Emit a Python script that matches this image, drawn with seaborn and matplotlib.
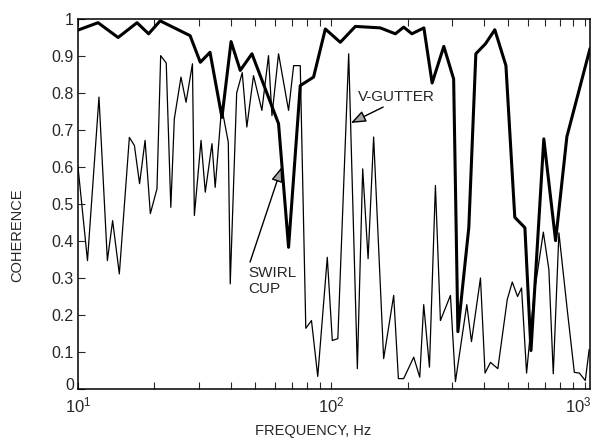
import numpy as np
import pandas as pd
import matplotlib
matplotlib.use("Agg")
import matplotlib.pyplot as plt
import matplotlib.transforms as mtransforms
import seaborn as sns
from matplotlib.ticker import LogLocator, NullFormatter, FixedLocator

# ---- data ----
swirl_freq = [10.0, 12.0, 14.4, 17.1, 19.0, 21.1, 27.7, 30.4, 33.2, 37.0, 40.2, 43.7,
              48.6, 61.9, 67.8, 75.4, 85.1, 94.7, 108.5, 124.4, 156, 179, 193, 208,
              232, 250, 278, 304, 316, 349, 372, 406, 442, 489, 530, 581, 614, 690,
              768, 851, 1050]
swirl_coh = [0.97, 0.99, 0.95, 0.99, 0.96, 0.995, 0.955, 0.883, 0.91, 0.734, 0.939, 0.861,
             0.906, 0.717, 0.383, 0.82, 0.843, 0.973, 0.937, 0.98, 0.976, 0.96, 0.978, 0.96,
             0.976, 0.827, 0.926, 0.838, 0.155, 0.437, 0.906, 0.933, 0.971, 0.874, 0.464,
             0.436, 0.104, 0.676, 0.401, 0.682, 0.92]

vgutter_freq = [10.0, 10.9, 12.1, 13.06, 13.7, 14.56, 15.95, 16.7, 17.5, 18.4, 19.3, 20.5,
                21.2, 22.3, 23.25, 24.0, 25.5, 26.7, 28.3, 28.8, 30.6, 31.8, 33.8, 34.8,
                36.9, 39.2, 39.9, 42.3, 44.5, 46.4, 49.3, 53.2, 56.5, 58.3, 61.9, 67.8,
                71.0, 75.4, 79.3, 83.5, 88.4, 96.4, 100.9, 106.1, 117.1, 126.7, 133,
                139.7, 146.9, 160.9, 176.3, 184, 193, 211.5, 223.4, 231.6, 244, 257.6,
                269.6, 295.3, 309, 342.6, 357.5, 388, 404.4, 425, 454.3, 495, 518, 543.5,
                563.6, 590, 630, 687, 722.5, 752, 791.5, 854.5, 910.6, 953, 1006, 1042]
vgutter_coh = [0.60, 0.347, 0.789, 0.347, 0.455, 0.311, 0.68, 0.658, 0.555, 0.672, 0.474,
               0.541, 0.901, 0.881, 0.491, 0.73, 0.843, 0.775, 0.879, 0.469, 0.672, 0.532,
               0.663, 0.545, 0.762, 0.667, 0.284, 0.80, 0.855, 0.708, 0.847, 0.753, 0.901,
               0.739, 0.906, 0.753, 0.874, 0.874, 0.164, 0.185, 0.034, 0.356, 0.131, 0.136,
               0.906, 0.055, 0.595, 0.352, 0.681, 0.082, 0.253, 0.028, 0.028, 0.086, 0.032,
               0.228, 0.059, 0.55, 0.185, 0.253, 0.02, 0.228, 0.128, 0.30, 0.043, 0.072,
               0.055, 0.242, 0.289, 0.25, 0.273, 0.043, 0.25, 0.424, 0.323, 0.041, 0.422,
               0.212, 0.045, 0.043, 0.023, 0.107]

ytick_vals = [0, 0.1, 0.2, 0.3, 0.4, 0.5, 0.6, 0.7, 0.8, 0.9, 1.0]
ytick_labels = ["0", "0.1", "0.2", "0.3", "0.4", "0.5", "0.6", "0.7", "0.8", "0.9", "1"]
xtick_vals = [10, 100, 1000]
xtick_labels = [r"$10^{1}$", r"$10^{2}$", r"$10^{3}$"]

# ---- style ----
sns.set_style("ticks")
plt.rcParams["font.family"] = ["Liberation Sans", "DejaVu Sans"]
plt.rcParams["mathtext.fontset"] = "custom"
plt.rcParams["mathtext.rm"] = "Liberation Sans"
plt.rcParams["mathtext.it"] = "Liberation Sans:italic"
plt.rcParams["mathtext.bf"] = "Liberation Sans:bold"

fig = plt.figure(figsize=(5.93, 4.41), dpi=100)
ax = fig.add_axes([78 / 593, 1 - 389 / 441, 512 / 593, 370 / 441])

df_s = pd.DataFrame({"freq": swirl_freq, "coh": swirl_coh})
df_v = pd.DataFrame({"freq": vgutter_freq, "coh": vgutter_coh})

sns.lineplot(data=df_v, x="freq", y="coh", ax=ax, color="black", linewidth=0.9,
             estimator=None, sort=False)
sns.lineplot(data=df_s, x="freq", y="coh", ax=ax, color="black", linewidth=2.2,
             estimator=None, sort=False)

ax.set_xscale("log")
ax.set_xlim(10, 1050)
ax.set_ylim(0, 1)
ax.set_xlabel("")
ax.set_ylabel("")

ax.xaxis.set_major_locator(FixedLocator(xtick_vals))
ax.set_xticklabels(xtick_labels)
ax.xaxis.set_minor_locator(LogLocator(base=10, subs=np.arange(2, 10), numticks=20))
ax.xaxis.set_minor_formatter(NullFormatter())
ax.yaxis.set_major_locator(FixedLocator(ytick_vals))
ax.set_yticklabels(ytick_labels)

for s in ax.spines.values():
    s.set_visible(True)
    s.set_linewidth(1.1)
    s.set_color("black")

ax.tick_params(axis="x", which="both", direction="in", top=True, bottom=True,
               length=5, width=0.8, pad=5, labelsize=12)
ax.tick_params(axis="y", which="both", direction="in", left=True, right=False,
               length=5, width=0.8, pad=3, labelsize=11.5)

# nudge the last x label inside the figure and the "0" y label upward, as in the reference
xl = ax.get_xticklabels()
xl[-1].set_transform(xl[-1].get_transform() +
                     mtransforms.ScaledTranslation(-6 / 100, 0, fig.dpi_scale_trans))
yl = ax.get_yticklabels()
yl[0].set_transform(yl[0].get_transform() +
                    mtransforms.ScaledTranslation(0, 5 / 100, fig.dpi_scale_trans))

fig.text(313 / 593, 1 - 431 / 441, "FREQUENCY, Hz", ha="center", va="center", fontsize=10.5)
fig.text(17 / 593, 1 - 235 / 441, "COHERENCE", ha="center", va="center",
         rotation=90, fontsize=10.5)

arrow_kw = dict(arrowstyle="-|>,head_length=0.9,head_width=0.35", fc="0.65", ec="black",
                lw=1.0, shrinkA=0, shrinkB=0)
ax.text(0.547, 0.789, "V-GUTTER", transform=ax.transAxes, ha="left", va="center",
        fontsize=11)
ax.annotate("", xy=(0.533, 0.719), xytext=(0.596, 0.762), xycoords="axes fraction",
            textcoords="axes fraction", arrowprops=arrow_kw)

ax.text(0.332, 0.292, "SWIRL\nCUP", transform=ax.transAxes, ha="left", va="center",
        fontsize=11, linespacing=1.15)
ax.annotate("", xy=(0.398, 0.60), xytext=(0.336, 0.343), xycoords="axes fraction",
            textcoords="axes fraction", arrowprops=arrow_kw)

fig.savefig("out.png", dpi=100)
